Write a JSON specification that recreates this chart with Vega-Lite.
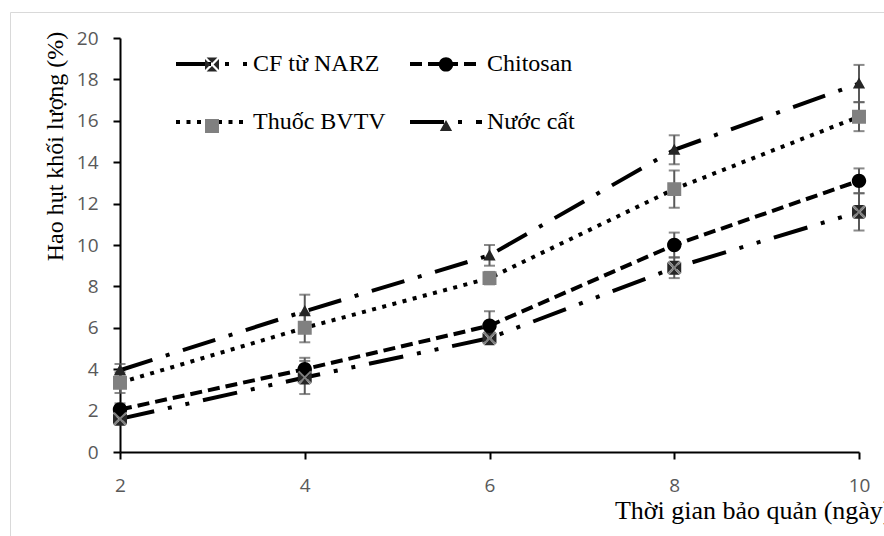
{
  "$schema": "https://vega.github.io/schema/vega-lite/v6.json",
  "autosize": {"type": "none"},
  "width": 876,
  "height": 526,
  "padding": {"left": 10, "top": 12, "right": -2, "bottom": -2},
  "background": "white",
  "config": {
    "view": {"stroke": "#d9d9d9", "strokeWidth": 1},
    "legend": {"labelFont": "Liberation Serif", "labelFontWeight": "normal", "labelFontSize": 24},
    "axis": {
      "grid": false,
      "domainColor": "black",
      "domainWidth": 2,
      "tickColor": "black",
      "tickWidth": 2,
      "tickSize": 7,
      "labelFont": "Open Sans",
      "labelFontSize": 19,
      "labelColor": "#595959",
      "titleFont": "Liberation Serif",
      "titleFontWeight": "normal",
      "titleColor": "black"
    }
  },
  "data": {
    "values": [
      {"day": 2, "series": "CF từ NARZ", "value": 1.6, "sd": 0.2},
      {"day": 4, "series": "CF từ NARZ", "value": 3.6, "sd": 0.8},
      {"day": 6, "series": "CF từ NARZ", "value": 5.5, "sd": 0.2},
      {"day": 8, "series": "CF từ NARZ", "value": 8.9, "sd": 0.5},
      {"day": 10, "series": "CF từ NARZ", "value": 11.6, "sd": 0.9},
      {"day": 2, "series": "Chitosan", "value": 2.05, "sd": 0.3},
      {"day": 4, "series": "Chitosan", "value": 4.0, "sd": 0.55},
      {"day": 6, "series": "Chitosan", "value": 6.1, "sd": 0.7},
      {"day": 8, "series": "Chitosan", "value": 10.0, "sd": 0.6},
      {"day": 10, "series": "Chitosan", "value": 13.1, "sd": 0.6},
      {"day": 2, "series": "Thuốc BVTV", "value": 3.35, "sd": 0.5},
      {"day": 4, "series": "Thuốc BVTV", "value": 6.0, "sd": 0.7},
      {"day": 6, "series": "Thuốc BVTV", "value": 8.4, "sd": 0.3},
      {"day": 8, "series": "Thuốc BVTV", "value": 12.7, "sd": 0.9},
      {"day": 10, "series": "Thuốc BVTV", "value": 16.2, "sd": 0.7},
      {"day": 2, "series": "Nước cất", "value": 3.95, "sd": 0.3},
      {"day": 4, "series": "Nước cất", "value": 6.8, "sd": 0.8},
      {"day": 6, "series": "Nước cất", "value": 9.5, "sd": 0.5},
      {"day": 8, "series": "Nước cất", "value": 14.6, "sd": 0.7},
      {"day": 10, "series": "Nước cất", "value": 17.8, "sd": 0.9}
    ]
  },
  "encoding": {
    "x": {
      "field": "day",
      "type": "quantitative",
      "scale": {"domain": [2, 10], "range": [110, 849], "nice": false, "zero": false},
      "axis": {
        "values": [2, 4, 6, 8, 10],
        "offset": -86,
        "labelFlush": false,
        "labelOverlap": false,
        "labelPadding": 17,
        "title": "Thời gian bảo quản (ngày)",
        "titleFont": "Liberation Serif",
        "titleFontSize": 26,
        "titleX": 881,
        "titleY": 66,
        "titleAlign": "right",
        "titleBaseline": "alphabetic"
      }
    },
    "y": {
      "field": "value",
      "type": "quantitative",
      "scale": {"domain": [0, 20], "range": [440, 26], "nice": false, "zero": true},
      "axis": {
        "values": [0, 2, 4, 6, 8, 10, 12, 14, 16, 18, 20],
        "offset": -110,
        "labelOverlap": false,
        "labelPadding": 15,
        "title": "Hao hụt khối lượng (%)",
        "titleFont": "Liberation Serif",
        "titleFontSize": 24,
        "titleX": -58,
        "titleY": 134,
        "titleAlign": "center",
        "titleAngle": 270,
        "titleBaseline": "alphabetic"
      }
    }
  },
  "layer": [
    {
      "mark": {"type": "errorbar", "ticks": {"size": 11}, "color": "#595959", "thickness": 2},
      "encoding": {"yError": {"field": "sd"}}
    },
    {
      "mark": {"type": "line", "color": "black", "strokeWidth": 4, "strokeCap": "butt"},
      "encoding": {
        "strokeDash": {
          "field": "series",
          "type": "nominal",
          "scale": {
            "domain": ["CF từ NARZ", "Chitosan", "Nước cất", "Thuốc BVTV"],
            "range": [[35, 14, 4, 14, 4, 14], [12, 6], [34, 14, 4, 14], [4, 6.5]]
          },
          "legend": {
            "orient": "none",
            "direction": "horizontal",
            "legendX": 164,
            "legendY": 14,
            "columns": 2,
            "title": null,
            "values": ["CF từ NARZ", "Chitosan", "Thuốc BVTV", "Nước cất"],
            "symbolType": "stroke",
            "symbolSize": 5184,
            "symbolStrokeWidth": 4,
            "symbolStrokeColor": "black",
            "labelFont": "Liberation Serif",
            "labelFontSize": 24,
            "labelFontWeight": "normal",
            "labelColor": "black",
            "labelOffset": 3,
            "labelLimit": 400,
            "columnPadding": 16,
            "rowPadding": 8,
            "padding": 0,
            "encode": {
              "symbols": {"update": {"size": {"value": 5184}, "stroke": {"value": "black"}, "strokeWidth": {"value": 4}}},
              "labels": {"update": {"font": {"value": "Liberation Serif"}, "fontWeight": {"value": "normal"}, "fill": {"value": "black"}}}
            }
          }
        }
      }
    },
    {
      "mark": {"type": "point", "filled": true, "size": 5184, "opacity": 1},
      "encoding": {
        "shape": {
          "field": "series",
          "type": "nominal",
          "scale": {
            "domain": ["CF từ NARZ", "Chitosan", "Thuốc BVTV", "Nước cất"],
            "range": [
              "M-1,0L-1,0M1,0L1,0M-0.15,-0.194L0.15,-0.194L0,-0.044ZM0.194,-0.15L0.194,0.15L0.044,0ZM0.15,0.194L-0.15,0.194L0,0.044ZM-0.194,0.15L-0.194,-0.15L-0.044,0Z",
              "M-1,0L-1,0M1,0L1,0M-0.2,0A0.2,0.2,0,1,1,0.2,0A0.2,0.2,0,1,1,-0.2,0Z",
              "M-1,0L-1,0M1,0L1,0M-0.194,-0.194L0.194,-0.194L0.194,0.194L-0.194,0.194Z",
              "M-1,0L-1,0M1,0L1,0M0,-0.17L0.17,0.14L-0.17,0.14Z"
            ]
          },
          "legend": {
            "orient": "none",
            "direction": "horizontal",
            "legendX": 164,
            "legendY": 14,
            "columns": 2,
            "title": null,
            "symbolSize": 5184,
            "symbolStrokeWidth": 4,
            "labelFont": "Liberation Serif",
            "labelFontSize": 24,
            "labelFontWeight": "normal",
            "labelColor": "rgba(0,0,0,0)",
            "labelOpacity": 0,
            "labelOffset": 3,
            "labelLimit": 400,
            "columnPadding": 16,
            "rowPadding": 8,
            "padding": 0,
            "encode": {
              "symbols": {"update": {"size": {"value": 5184}, "stroke": {"value": "transparent"}, "strokeWidth": {"value": 4}, "opacity": {"value": 1}}},
              "labels": {"update": {"font": {"value": "Liberation Serif"}, "fontWeight": {"value": "normal"}, "fill": {"value": "transparent"}, "opacity": {"value": 0}}}
            }
          }
        },
        "fill": {
          "field": "series",
          "type": "nominal",
          "scale": {
            "domain": ["CF từ NARZ", "Chitosan", "Thuốc BVTV", "Nước cất"],
            "range": ["#262626", "#000000", "#808080", "#262626"]
          },
          "legend": {
            "orient": "none",
            "direction": "horizontal",
            "legendX": 164,
            "legendY": 14,
            "columns": 2,
            "title": null,
            "symbolSize": 5184,
            "symbolStrokeWidth": 4,
            "labelFont": "Liberation Serif",
            "labelFontSize": 24,
            "labelFontWeight": "normal",
            "labelColor": "rgba(0,0,0,0)",
            "labelOpacity": 0,
            "labelOffset": 3,
            "labelLimit": 400,
            "columnPadding": 16,
            "rowPadding": 8,
            "padding": 0,
            "encode": {
              "symbols": {"update": {"size": {"value": 5184}, "stroke": {"value": "transparent"}, "strokeWidth": {"value": 4}, "opacity": {"value": 1}}},
              "labels": {"update": {"font": {"value": "Liberation Serif"}, "fontWeight": {"value": "normal"}, "fill": {"value": "transparent"}, "opacity": {"value": 0}}}
            }
          }
        }
      }
    },
    {
      "transform": [{"filter": "datum.series === 'CF từ NARZ'"}],
      "mark": {
        "type": "point",
        "filled": false,
        "size": 5184,
        "shape": "M-0.17,-0.17L0.17,0.17M-0.17,0.17L0.17,-0.17",
        "stroke": "#808080",
        "strokeWidth": 2,
        "opacity": 1
      },
      "encoding": {}
    }
  ]
}
